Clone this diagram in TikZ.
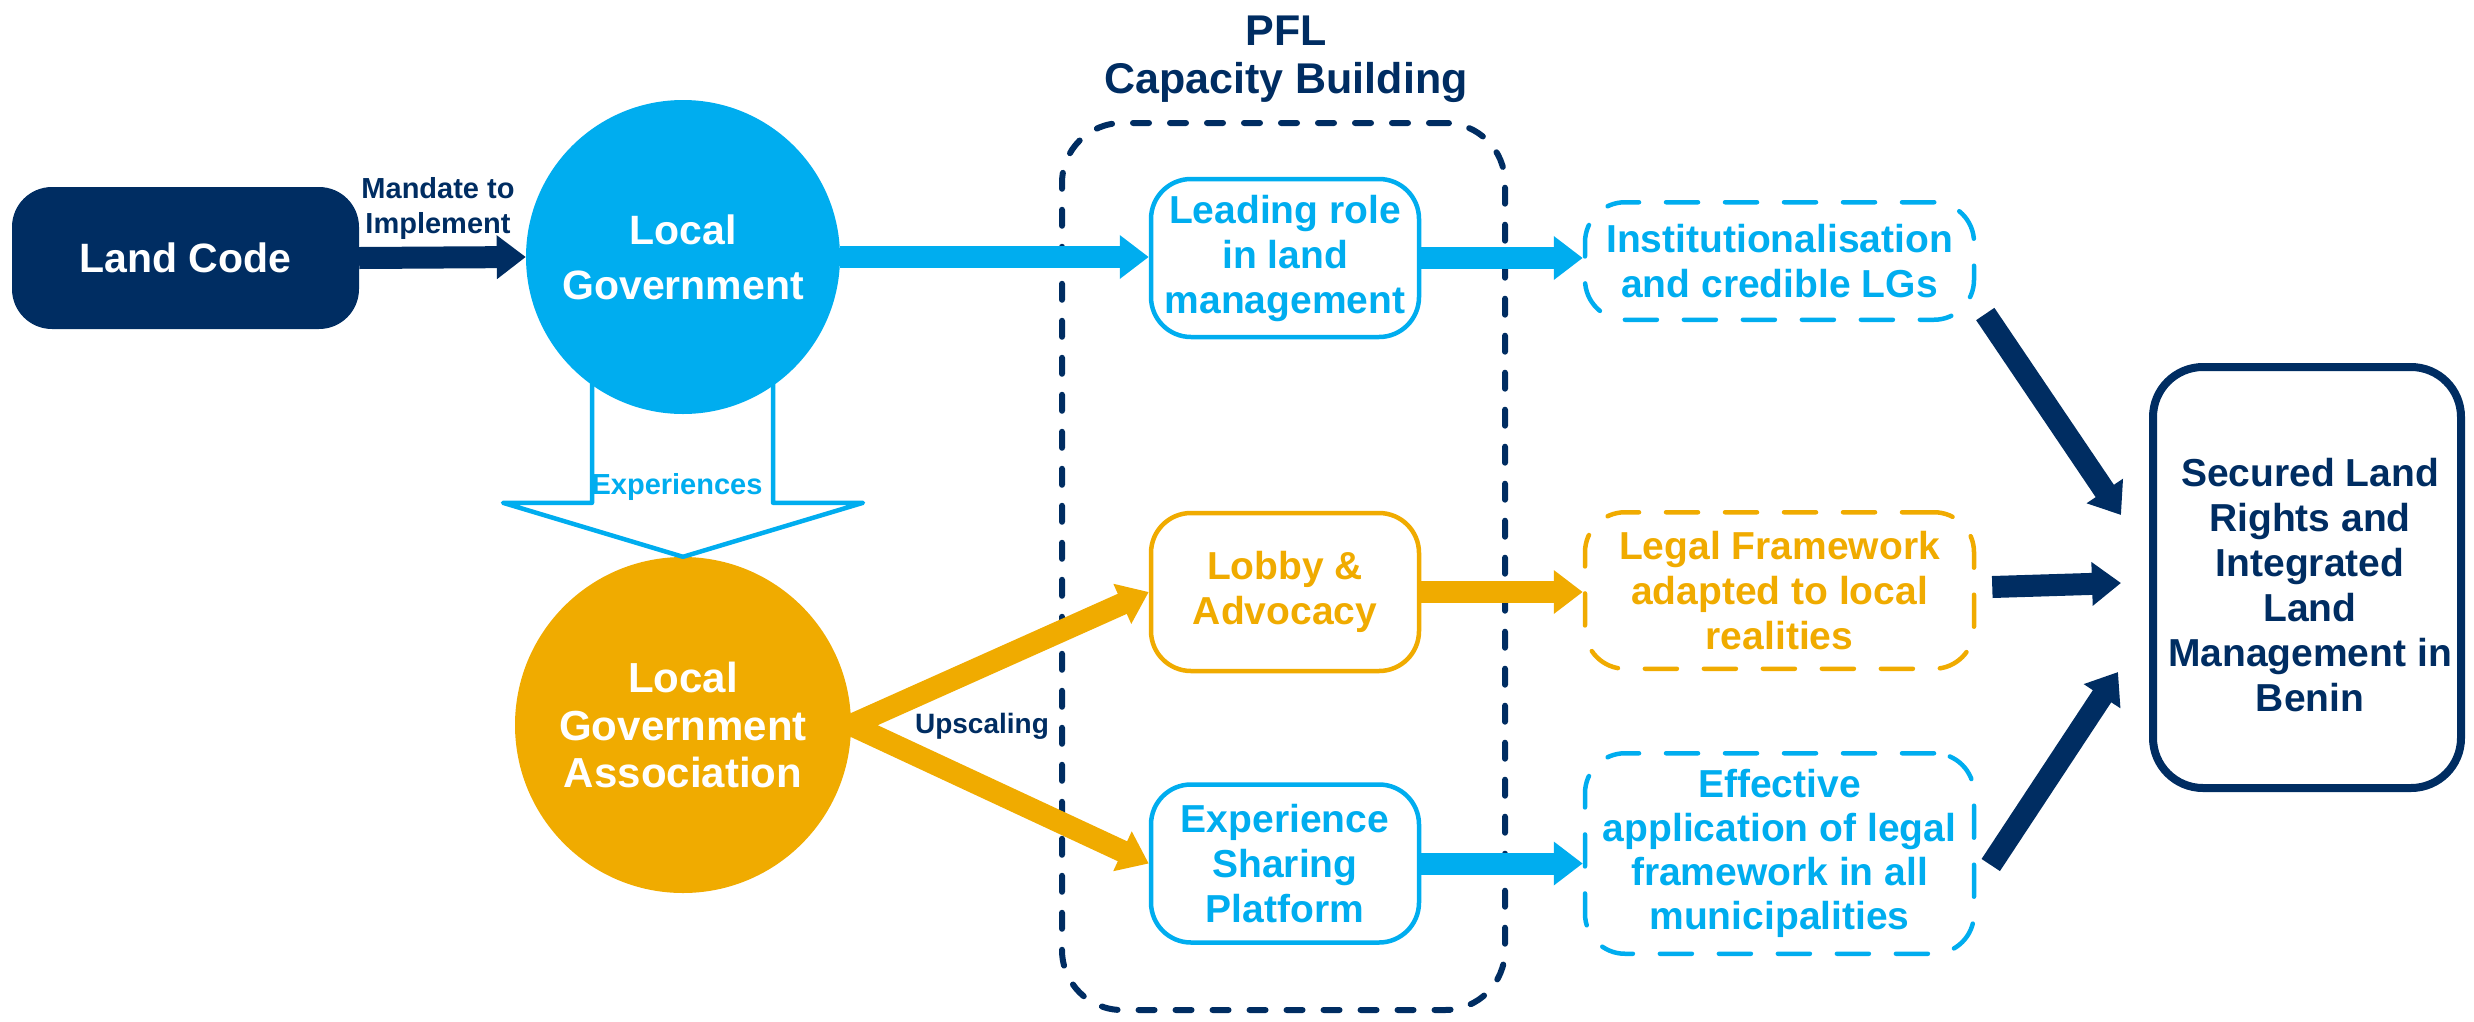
\documentclass[tikz,border=0pt]{standalone}
\usepackage{fontspec}
\setmainfont{Liberation Sans}
\usetikzlibrary{arrows.meta,positioning,calc}
\definecolor{navy}{RGB}{0,45,98}
\definecolor{skyblue}{RGB}{0,173,239}
\definecolor{gold}{RGB}{240,171,0}
\newcommand{\fsz}[2]{\fontsize{#1pt}{#2pt}\selectfont\bfseries}

\tikzset{
  fat/.style={line width=22pt, -{Triangle[width=42pt,length=29pt]}},
  roundbox/.style={rectangle, rounded corners=40pt, line width=4.5pt, align=center,
    minimum width=268pt, minimum height=158pt, inner sep=0pt},
  dashbox/.style={rectangle, rounded corners=40pt, line width=4.5pt, align=center,
    dash pattern=on 32pt off 27pt, line cap=round, minimum width=389pt, inner sep=0pt},
}

\begin{document}
\begin{tikzpicture}[x=1pt, y=-1pt, every node/.style={font=\fsz{39}{45}}]
\useasboundingbox (0,0) rectangle (2474,1021);

% PFL frame
\node[draw=navy, line width=6pt, dash pattern=on 16pt off 21pt, line cap=round,
  rounded corners=60pt, minimum width=443pt, minimum height=887pt] (pfl) at (1283.5,566.5) {};
\node[navy, font=\fsz{43}{48}, align=center] (pfltitle) at (1286,59) {PFL\\Capacity Building};

% left part
\node[fill=navy, rounded corners=40pt, minimum width=347pt, minimum height=142pt,
  text=white, font=\fsz{41}{47}] (landcode) at (185.5,258) {Land Code};
\node[circle, fill=gold, minimum size=336pt, inner sep=0pt, text=white,
  font=\fsz{42}{47.5}, align=center] (lga) at (683,725) {Local\\Government\\Association};
\draw[skyblue, line width=4.5pt, line join=round, fill=white]
  ($(lga.north)+(-91,-227)$) -- ($(lga.north)+(-91,-54)$) -- ($(lga.north)+(-180,-54)$)
  -- (lga.north) -- ($(lga.north)+(180,-54)$) -- ($(lga.north)+(90,-54)$) -- ($(lga.north)+(90,-227)$);
\node[circle, fill=skyblue, minimum size=314pt, inner sep=0pt, text=white,
  font=\fsz{41}{55}, align=center] (lg) at (683,257) {Local\\Government};
\node[skyblue, font=\fsz{29}{35}] (exptext) at (677,486.5) {Experiences};
\node[navy, font=\fsz{29}{35}, align=center] (mandate) at (438,208) {Mandate to\\Implement};
\node[navy, font=\fsz{28}{34}] (upscale) at (982,726) {Upscaling};

% capacity building boxes
\node[roundbox, draw=skyblue, text=skyblue] (leading) at (1285,258) {Leading role\\in land\\management};
\node[roundbox, draw=gold, text=gold] (lobby) at (1285,592) {Lobby \&\\Advocacy};
\node[roundbox, draw=skyblue, text=skyblue] (esp) at (1285,863.5) {Experience\\Sharing\\Platform};

% outcomes
\node[dashbox, draw=skyblue, text=skyblue, minimum height=117.5pt] (inst) at (1779.5,261)
  {Institutionalisation\\and credible LGs};
\node[dashbox, draw=gold, text=gold, minimum height=156.5pt] (legal) at (1779.5,590.5)
  {Legal Framework\\adapted to local\\realities};
\node[dashbox, draw=skyblue, text=skyblue, minimum height=200.5pt, font=\fsz{39}{44}] (eff) at (1779.5,853.5)
  {Effective\\application of legal\\framework in all\\municipalities};

\node[draw=navy, line width=8pt, rounded corners=50pt, minimum width=308pt,
  minimum height=421pt] (secured) at (2307,577.5) {};
\node[navy, align=center] (securedtext) at (2310,585)
  {Secured Land\\Rights and\\Integrated\\Land\\Management in\\Benin};

% arrows
\draw[fat, navy] (landcode.east) -- (lg.west);
\draw[fat, skyblue] (lg.east) -- (lg.east -| leading.west);
\draw[fat, gold] (lga.east) -- (lobby.west);
\draw[fat, gold] (lga.east) -- (esp.west);
\draw[fat, skyblue] (leading.east) -- (leading.east -| inst.west);
\draw[fat, gold] (lobby.east) -- (lobby.east -| legal.west);
\draw[fat, skyblue] (esp.east) -- (esp.east -| eff.west);
\draw[fat, navy] ([xshift=9pt,yshift=8pt]inst.south east) -- ([xshift=-28pt,yshift=62.5pt]secured.west);
\draw[fat, navy] ([xshift=16pt,yshift=3.5pt]legal.east) -- ([xshift=-28pt,yshift=-5.5pt]secured.west);
\draw[fat, navy] ([xshift=14.5pt,yshift=-11.5pt]eff.east) -- ([xshift=-31pt,yshift=-94.5pt]secured.west);
\end{tikzpicture}
\end{document}
